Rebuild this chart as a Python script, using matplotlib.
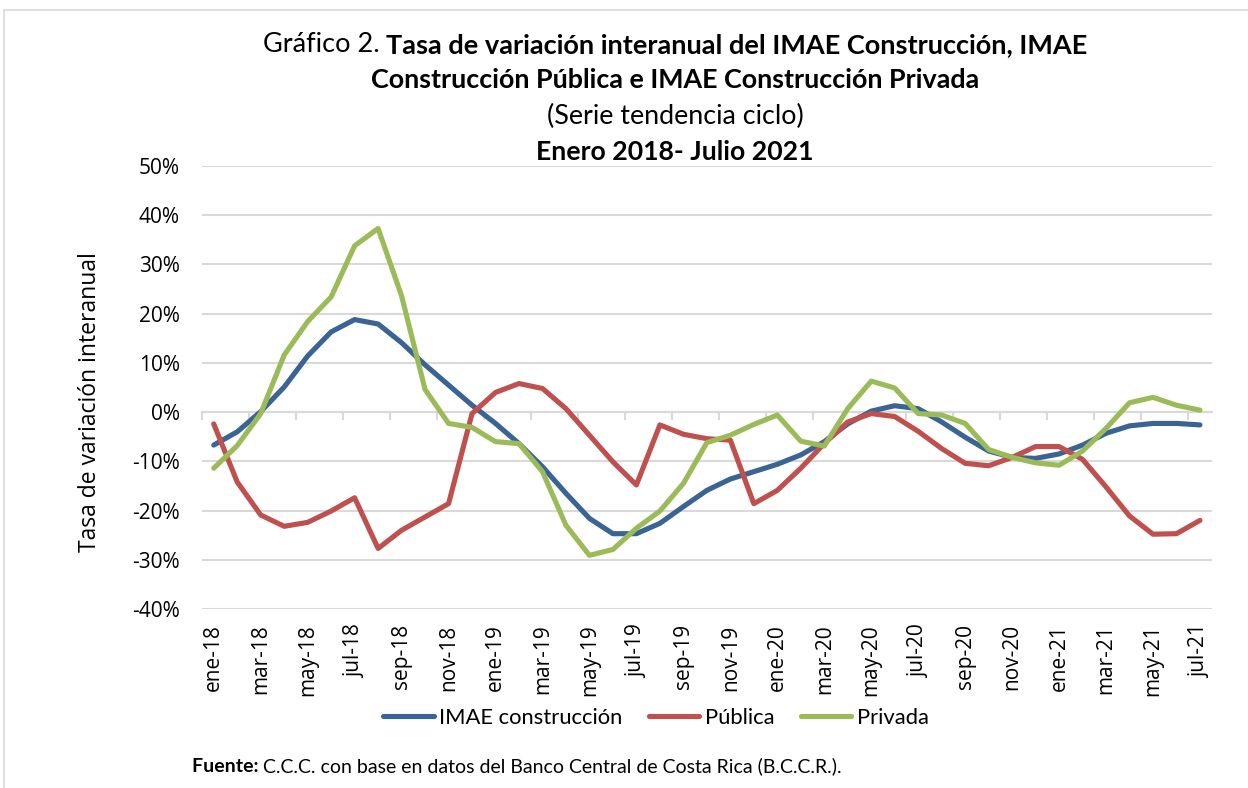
import matplotlib
matplotlib.use("Agg")
import matplotlib.pyplot as plt
from matplotlib.patches import Rectangle
from matplotlib.ticker import FuncFormatter

# Datos (tasa de variación interanual, %)
meses = ["ene", "feb", "mar", "abr", "may", "jun", "jul", "ago", "sep", "oct", "nov", "dic"]
etiquetas = [f"{m}-{a}" for a in ["18", "19", "20", "21"] for m in meses][:43]

imae = [-6.7, -4.0, 0.1, 5.1, 11.4, 16.3, 18.8, 17.9, 14.1, 9.6, 5.5, 1.4,
        -2.3, -6.4, -11.1, -16.5, -21.6, -24.7, -24.7, -22.6, -19.2, -15.9, -13.6, -12.1,
        -10.6, -8.7, -6.0, -2.4, 0.2, 1.3, 0.7, -2.0, -5.1, -7.9, -9.2, -9.4,
        -8.5, -6.7, -4.3, -2.8, -2.3, -2.3, -2.6]
publica = [-2.4, -14.2, -20.9, -23.2, -22.4, -20.1, -17.4, -27.7, -24.0, -21.3, -18.6, -0.3,
           4.0, 5.8, 4.8, 0.7, -4.7, -10.1, -14.8, -2.6, -4.5, -5.4, -5.7, -18.6,
           -15.9, -11.4, -6.4, -2.0, -0.3, -0.9, -3.9, -7.4, -10.4, -10.9, -9.2, -7.0,
           -7.0, -9.6, -15.2, -21.1, -24.8, -24.7, -22.0]
privada = [-11.4, -6.8, -0.3, 11.6, 18.4, 23.4, 33.8, 37.3, 23.6, 4.6, -2.3, -3.1,
           -6.0, -6.4, -12.1, -23.0, -29.1, -27.9, -23.6, -20.1, -14.5, -6.2, -4.7, -2.5,
           -0.6, -5.9, -6.9, 0.7, 6.3, 4.9, -0.3, -0.6, -2.3, -7.6, -9.2, -10.3,
           -10.8, -7.9, -3.3, 1.9, 3.0, 1.4, 0.4]

series = [("IMAE construcción", imae, "#3A6496"),
          ("Pública", publica, "#C0504D"),
          ("Privada", privada, "#9BBB59")]

TXT = ["Open Sans", "DejaVu Sans"]
CAL = ["Lato", "DejaVu Sans"]

fig = plt.figure(figsize=(12.48, 7.88), dpi=100)
fig.patches.append(Rectangle((4 / 1248, -0.05), 1.1, (788 - 10) / 788 + 0.05,
                             transform=fig.transFigure, fill=False,
                             edgecolor="#D9D9D9", linewidth=1.2))

ax = fig.add_axes([202 / 1248, 179 / 788, 1009.7 / 1248, 443 / 788])
x = list(range(len(etiquetas)))
lineas = []
for nombre, vals, color in series:
    l, = ax.plot(x, vals, color=color, linewidth=3.7, label=nombre,
                 solid_capstyle="round", solid_joinstyle="round", zorder=3)
    lineas.append(l)

ax.set_xlim(-0.5, len(etiquetas) - 0.5)
ax.set_ylim(-40, 50)
ax.set_yticks(range(-40, 51, 10))
ax.yaxis.set_major_formatter(FuncFormatter(lambda v, p: f"{v:.0f}%"))
ax.grid(axis="y", color="#D9D9D9", linewidth=1.5, zorder=0)
for s in ax.spines.values():
    s.set_visible(False)
ax.tick_params(axis="y", length=0, pad=16, labelsize=15)
ax.set_xticks(x[::2])
ax.set_xticklabels(etiquetas[::2], rotation=90, fontsize=15, family=TXT)
ax.tick_params(axis="x", length=0, pad=11)
for t in ax.get_yticklabels():
    t.set_family(TXT)

# eje de categorías en 0%
sec = ax.secondary_xaxis(40 / 90)
sec.set_xticks([i - 0.5 for i in range(0, len(etiquetas) + 1, 2)])
sec.tick_params(axis="x", direction="out", length=6, width=1.5, color="#D9D9D9",
                labelbottom=False, labeltop=False, bottom=True, top=False)
sec.spines["bottom"].set_color("#D9D9D9")
sec.spines["bottom"].set_linewidth(1.5)
sec.spines["top"].set_visible(False)

fig.text(90 / 1248, 1 - 402 / 788, "Tasa de variación interanual", rotation=90,
         ha="center", va="center", fontsize=16.5, family=TXT)

fig.legend(handles=lineas, loc="center", bbox_to_anchor=(656 / 1248, 1 - 718 / 788),
           ncol=3, frameon=False, prop={"family": CAL, "size": 15.8},
           handlelength=2.3, handletextpad=0.25, columnspacing=1.2)

renderer = fig.canvas.get_renderer()


def mixto(partes, xc, yc, size, ha="center"):
    textos = [fig.text(0, yc, s, fontsize=size, fontweight=w, va="center", family=CAL)
              for s, w in partes]
    anchos = [t.get_window_extent(renderer).width for t in textos]
    W = fig.bbox.width
    x0 = xc * W - sum(anchos) / 2 if ha == "center" else xc * W
    for t, a in zip(textos, anchos):
        t.set_x(x0 / W)
        x0 += a


xc = 675 / 1248
mixto([("Gráfico 2. ", "normal"),
       ("Tasa de variación interanual del IMAE Construcción, IMAE", "bold")],
      xc, 1 - 45 / 788, 19.5)
mixto([("Construcción Pública e IMAE Construcción Privada", "bold")], xc, 1 - 80 / 788, 19.4)
mixto([("(Serie tendencia ciclo)", "normal")], xc, 1 - 116 / 788, 19.4)
mixto([("Enero 2018- Julio 2021", "bold")], xc, 1 - 152 / 788, 19.2)
mixto([("Fuente: ", "bold"),
       ("C.C.C. con base en datos del Banco Central de Costa Rica (B.C.C.R.).", "normal")],
      192 / 1248, 1 - 766 / 788, 14, ha="left")

fig.savefig("out.png", dpi=100)
